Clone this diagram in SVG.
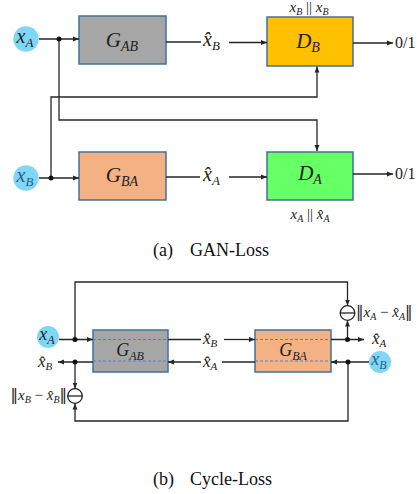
<svg xmlns="http://www.w3.org/2000/svg" width="420" height="494" viewBox="0 0 420 494">
<defs>
<marker id="ah" markerWidth="6" markerHeight="6" refX="6" refY="3" orient="auto" markerUnits="userSpaceOnUse">
<path d="M0,0.5 L6,3 L0,5.5 z" fill="#262626"/>
</marker>
<style>
.ln{stroke:#262626;stroke-width:1.3;fill:none}
.ar{stroke:#262626;stroke-width:1.3;fill:none;marker-end:url(#ah)}
.dot{fill:#111}
.box{stroke:#41719c;stroke-width:1.5}
.dash{stroke:#5a7fc4;stroke-width:1;stroke-dasharray:3,2}
.src{fill:#7fd6f5}
.m{font-family:"Liberation Serif","DejaVu Serif",serif;font-style:italic;fill:#222}
.r{font-family:"Liberation Serif","DejaVu Serif",serif;fill:#222}
.nb{font-family:"DejaVu Sans",sans-serif;font-style:normal;font-weight:normal}
.cap{font-family:"Liberation Serif","Times New Roman",serif;font-size:18px;fill:#111}
.om{fill:#fff;stroke:#222;stroke-width:1.3}
</style>
</defs>

<!-- ===== (a) GAN-Loss ===== -->
<g id="a_xA"><circle class="src" cx="26" cy="39" r="12.7"/><text class="m" x="25" y="43" font-size="20" text-anchor="middle" fill="#1f2f4f">x<tspan font-size="13" dy="4">A</tspan></text></g>
<g id="a_xB"><circle class="src" cx="26" cy="178" r="12.7"/><text class="m" x="25" y="182" font-size="20" text-anchor="middle" style="fill:#2a5d8c">x<tspan font-size="13" dy="4">B</tspan></text></g>
<g id="a_GAB"><rect class="box" x="79" y="16" width="87" height="48" fill="#a6a6a6"/><text class="m" x="122" y="47" font-size="21" text-anchor="middle">G<tspan font-size="14" dy="4">AB</tspan></text></g>
<g id="a_DB"><rect class="box" x="267" y="17" width="86" height="49" fill="#ffc000"/><text class="m" x="308" y="48" font-size="21" text-anchor="middle">D<tspan font-size="14" dy="4">B</tspan></text><text class="m" x="309" y="12" font-size="15" text-anchor="middle">x<tspan font-size="10" dy="3">B</tspan><tspan dy="-3" style="font-style:normal"> || </tspan>x<tspan font-size="10" dy="3">B</tspan></text></g>
<g id="a_GBA"><rect class="box" x="79" y="152" width="87" height="48" fill="#f4b183"/><text class="m" x="122" y="182" font-size="21" text-anchor="middle">G<tspan font-size="14" dy="4">BA</tspan></text></g>
<g id="a_DA"><rect class="box" x="267" y="152" width="86" height="48" fill="#66ff66"/><text class="m" x="310" y="180" font-size="21" text-anchor="middle">D<tspan font-size="14" dy="4">A</tspan></text><text class="m" x="310" y="219" font-size="15" text-anchor="middle">x<tspan font-size="10" dy="3">A</tspan><tspan dy="-3" style="font-style:normal"> || </tspan>x̂<tspan font-size="10" dy="3">A</tspan></text></g>
<g id="a_out">
<text class="r" x="395" y="48" font-size="16">0/1</text>
<text class="r" x="395" y="179" font-size="16">0/1</text>
<text class="m" x="203" y="46" font-size="20">x̂<tspan font-size="13" dy="4">B</tspan></text>
<text class="m" x="203" y="181" font-size="20">x̂<tspan font-size="13" dy="4">A</tspan></text>
</g>
<g id="a_connectors">
<path class="ar" d="M39,39 H79"/>
<path class="ar" d="M59,39 V120 H317 V151"/>
<path class="ar" d="M39,178 H79"/>
<path class="ar" d="M51,178 V97 H317 V66.5"/>
<path class="ln" d="M166,42 H201"/>
<path class="ar" d="M229,42.5 H267"/>
<path class="ln" d="M166,177 H200"/>
<path class="ar" d="M229,177 H267"/>
<path class="ar" d="M353,43 H393"/>
<path class="ar" d="M353,174 H393"/>
<circle class="dot" cx="59" cy="39" r="2.5"/>
<circle class="dot" cx="51" cy="178" r="2.5"/>
</g>
<text class="cap" x="153" y="256">(a)<tspan x="190">GAN-Loss</tspan></text>

<!-- ===== (b) Cycle-Loss ===== -->
<g id="b_xA"><circle class="src" cx="48" cy="337" r="11"/><text class="m" x="47" y="340" font-size="18" text-anchor="middle" fill="#1f2f4f">x<tspan font-size="12" dy="4">A</tspan></text></g>
<g id="b_xB"><circle class="src" cx="380" cy="362" r="11"/><text class="m" x="379" y="365" font-size="18" text-anchor="middle" style="fill:#2a5d8c">x<tspan font-size="12" dy="4">B</tspan></text></g>
<g id="b_GAB"><rect class="box" x="93" y="330" width="75" height="42" fill="#a6a6a6"/><line class="dash" x1="93" y1="339.5" x2="168" y2="339.5"/><line class="dash" x1="93" y1="361" x2="168" y2="361"/><text class="m" x="130" y="356" font-size="18" text-anchor="middle">G<tspan font-size="12" dy="4">AB</tspan></text></g>
<g id="b_GBA"><rect class="box" x="255" y="330" width="76" height="42" fill="#f4b183"/><line class="dash" x1="255" y1="339.5" x2="331" y2="339.5"/><line class="dash" x1="255" y1="361" x2="331" y2="361"/><text class="m" x="293" y="356" font-size="18" text-anchor="middle">G<tspan font-size="12" dy="4">BA</tspan></text></g>
<g id="b_diffA"><circle class="om" cx="347.5" cy="313" r="7.3"/><line class="ln" x1="340.2" y1="313" x2="354.8" y2="313"/><text class="m" x="356" y="317" font-size="15"><tspan class="nb">‖</tspan>x<tspan font-size="10" dy="3">A</tspan><tspan dy="-3" style="font-style:normal"> − </tspan>x̂<tspan font-size="10" dy="3">A</tspan><tspan dy="-3" class="nb">‖</tspan></text></g>
<g id="b_diffB"><circle class="om" cx="75" cy="396" r="7.3"/><line class="ln" x1="67.7" y1="396" x2="82.3" y2="396"/><text class="m" x="67" y="400" font-size="15" text-anchor="end"><tspan class="nb">‖</tspan>x<tspan font-size="10" dy="3">B</tspan><tspan dy="-3" style="font-style:normal"> − </tspan>x̂<tspan font-size="10" dy="3">B</tspan><tspan dy="-3" class="nb">‖</tspan></text></g>
<g id="b_labels">
<text class="m" x="203" y="344" font-size="17">x̂<tspan font-size="11" dy="3">B</tspan></text>
<text class="m" x="203" y="367" font-size="17">x̂<tspan font-size="11" dy="3">A</tspan></text>
<text class="m" x="372" y="344" font-size="17">x̂<tspan font-size="11" dy="3">A</tspan></text>
<text class="m" x="38" y="367" font-size="17">x̂<tspan font-size="11" dy="3">B</tspan></text>
</g>
<g id="b_connectors">
<path class="ar" d="M59,339.5 H93"/>
<path class="ar" d="M75,339.5 V282 H347.5 V305.5"/>
<path class="ln" d="M168,339.5 H201"/>
<path class="ar" d="M224,339.5 H255"/>
<path class="ar" d="M331,339.5 H364"/>
<path class="ar" d="M347.5,339.5 V320.5"/>
<path class="ar" d="M369,362 H331"/>
<path class="ar" d="M348,362 V421 H75 V403.5"/>
<path class="ln" d="M255,362 H222"/>
<path class="ar" d="M201,362 H168"/>
<path class="ar" d="M93,362 H58"/>
<path class="ar" d="M75,362 V388.5"/>
<circle class="dot" cx="75" cy="339.5" r="2.5"/>
<circle class="dot" cx="347.5" cy="339.5" r="2.5"/>
<circle class="dot" cx="348" cy="362" r="2.5"/>
<circle class="dot" cx="75" cy="362" r="2.5"/>
</g>
<text class="cap" x="153" y="485">(b)<tspan x="190">Cycle-Loss</tspan></text>
</svg>
